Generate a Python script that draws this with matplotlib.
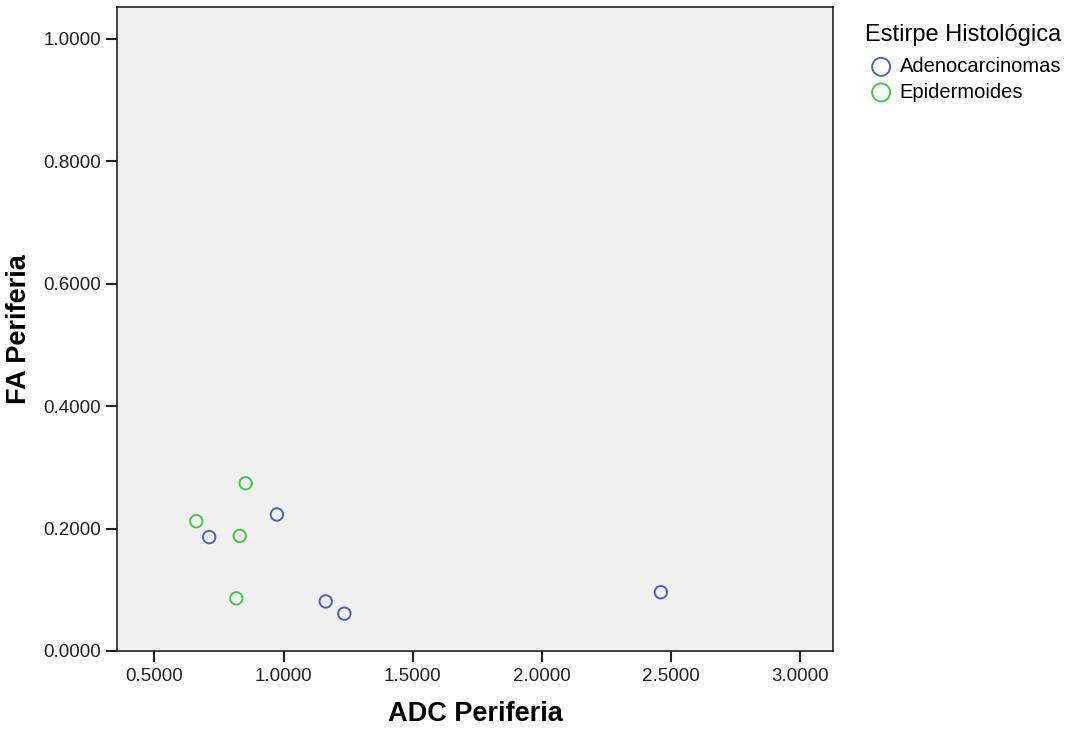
import matplotlib
matplotlib.use("Agg")
import matplotlib.pyplot as plt
from matplotlib.ticker import FormatStrFormatter

plt.rcParams["font.family"] = ["Liberation Sans", "DejaVu Sans"]

# values
adeno_adc = [0.712, 0.974, 1.163, 1.235, 2.460]
adeno_fa = [0.186, 0.223, 0.081, 0.061, 0.096]
epid_adc = [0.662, 0.853, 0.830, 0.817]
epid_fa = [0.212, 0.274, 0.188, 0.086]

groups = ["Adenocarcinomas", "Epidermoides"]
colors = ["#4f62b8", "#4cc24f"]
x_ticks = [0.5, 1.0, 1.5, 2.0, 2.5, 3.0]
y_ticks = [0.0, 0.2, 0.4, 0.6, 0.8, 1.0]

fig = plt.figure(figsize=(10.71, 7.29), dpi=100)
ax = fig.add_axes([0.1097, 0.107, 0.668, 0.8834])
ax.set_facecolor("#f0f0f0")

for (xs, ys), name, col in zip([(adeno_adc, adeno_fa), (epid_adc, epid_fa)], groups, colors):
    ax.scatter(xs, ys, s=80, facecolors="none", edgecolors=col, linewidths=1.4, label=name)

ax.set_xlim(0.357, 3.126)
ax.set_ylim(0.0, 1.052)
ax.set_xticks(x_ticks)
ax.set_yticks(y_ticks)
ax.xaxis.set_major_formatter(FormatStrFormatter("%.4f"))
ax.yaxis.set_major_formatter(FormatStrFormatter("%.4f"))
ax.tick_params(length=8, width=1.5, labelsize=13.5, colors="#222222", pad=4)
for sp in ax.spines.values():
    sp.set_linewidth(1.2)
    sp.set_color("#222222")

ax.set_xlabel("ADC Periferia", fontsize=19.5, fontweight="bold", labelpad=12)
ax.set_ylabel("FA Periferia", fontsize=19.5, fontweight="bold", labelpad=8)

leg = ax.legend(title="Estirpe Histológica", loc="upper left",
                bbox_to_anchor=(865 / 1071, 1 - 24 / 729), bbox_transform=fig.transFigure,
                frameon=False, fontsize=14.5, title_fontsize=17, markerscale=1.45,
                handletextpad=0.12, handlelength=1.6, labelspacing=0.33,
                borderpad=0, borderaxespad=0, alignment="left")
leg._legend_box.sep = 8

fig.savefig("out.png", dpi=100)
